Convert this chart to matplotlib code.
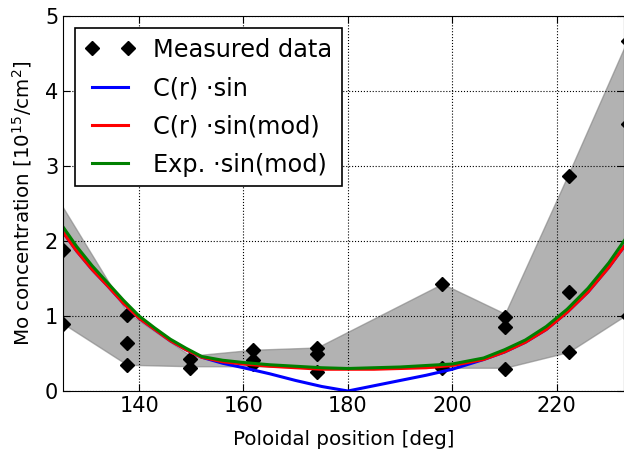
import numpy as np
import matplotlib
matplotlib.use("Agg")
import matplotlib.pyplot as plt

# measured points (poloidal angle, concentration)
meas_x = [125.5, 125.5, 137.7, 137.7, 137.7, 149.8, 149.8, 161.9, 161.9, 161.9,
          174.1, 174.1, 174.1, 198.1, 198.1, 210.1, 210.1, 210.1,
          222.3, 222.3, 222.3, 233.7, 233.7, 233.7]
meas_y = [1.88, 0.90, 1.01, 0.64, 0.35, 0.43, 0.31, 0.55, 0.41, 0.36,
          0.57, 0.50, 0.26, 1.43, 0.31, 0.99, 0.86, 0.30,
          2.87, 1.32, 0.52, 4.67, 3.56, 1.00]

# uncertainty band
band_x = [125.4, 137.7, 149.8, 161.9, 174.1, 198.1, 210.1, 222.3, 233.7]
band_hi = [2.45, 1.05, 0.47, 0.55, 0.58, 1.43, 1.03, 2.90, 4.70]
band_lo = [0.90, 0.35, 0.33, 0.33, 0.31, 0.31, 0.31, 0.52, 1.03]

# model curves
curve_x = [125.4, 128, 131, 134, 137, 140, 143, 146, 149, 152, 156, 160, 165, 170,
           175, 180, 185, 190, 195, 200, 206, 210, 214, 218, 222, 226, 230, 233.7]
c_sin_mod = [2.12, 1.87, 1.62, 1.40, 1.17, 0.97, 0.82, 0.67, 0.55, 0.45, 0.39, 0.36,
             0.33, 0.31, 0.29, 0.29, 0.29, 0.30, 0.31, 0.34, 0.42, 0.52, 0.65, 0.82,
             1.05, 1.32, 1.65, 2.00]
exp_sin_mod = [2.19, 1.93, 1.67, 1.44, 1.21, 1.00, 0.84, 0.69, 0.57, 0.46, 0.41, 0.38,
               0.35, 0.33, 0.31, 0.30, 0.31, 0.32, 0.34, 0.36, 0.44, 0.55, 0.68, 0.86,
               1.09, 1.37, 1.71, 2.08]
c_sin = [2.12, 1.87, 1.62, 1.40, 1.17, 0.97, 0.82, 0.67, 0.55, 0.45, 0.37, 0.31,
         0.23, 0.14, 0.06, 0.00, 0.07, 0.14, 0.21, 0.29, 0.42, 0.52, 0.65, 0.82,
         1.05, 1.32, 1.65, 2.00]

plt.rcParams['font.size'] = 15
fig = plt.figure(figsize=(6.24, 4.57), dpi=100)
ax = fig.add_axes([63/624, 66/457, 561/624, 375/457])

ax.fill_between(band_x, band_lo, band_hi, color='gray', alpha=0.6, lw=1, edgecolor='gray')
ax.plot(meas_x, meas_y, 'kD', ms=7, mec='k', label='Measured data')
ax.plot(curve_x, c_sin, 'b', lw=2.2, label='C(r) ·sin')
ax.plot(curve_x, c_sin_mod, 'r', lw=2.2, label='C(r) ·sin(mod)')
ax.plot(curve_x, exp_sin_mod, color=(0, 0.5, 0), lw=2.2, label='Exp. ·sin(mod)')

ax.set_xlim(125.42, 232.9)
ax.set_ylim(0, 5)
ax.set_xticks([140, 160, 180, 200, 220])
ax.set_yticks([0, 1, 2, 3, 4, 5])
ax.grid(True, color='k', linestyle=':', lw=0.8)
ax.tick_params(direction='in', top=True, right=True, length=5)
ax.set_xlabel('Poloidal position [deg]', fontsize=14.3, labelpad=10)
ax.set_ylabel('Mo concentration [10$^{15}$/cm$^2$]', fontsize=14.3, labelpad=8)

leg = ax.legend(loc='upper left', numpoints=2, fancybox=False, framealpha=1,
                edgecolor='k', borderaxespad=0.5, handlelength=2.1,
                handletextpad=0.75, labelspacing=0.6, borderpad=0.4,
                prop={'size': 17.3})
leg.get_frame().set_linewidth(1.2)

fig.savefig('out.png', dpi=100)
